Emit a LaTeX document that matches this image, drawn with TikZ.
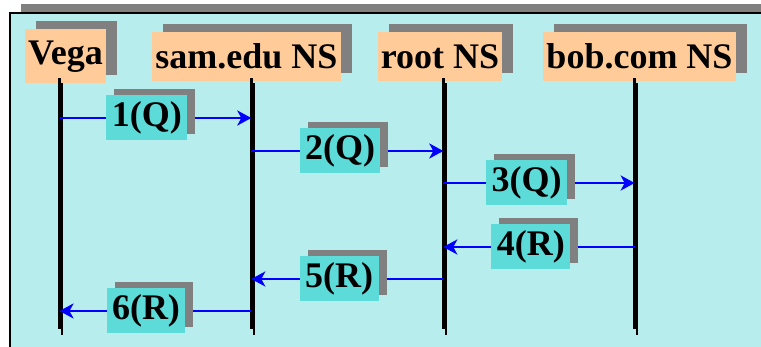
\documentclass[tikz,border=0pt]{standalone}
\usepackage{fontspec}
\setmainfont{Liberation Serif}
\usepackage{xcolor}
\usepackage{tikz}
\usetikzlibrary{arrows.meta,shadows}

\definecolor{panel}{RGB}{184,237,237}
\definecolor{hostfill}{RGB}{255,204,153}
\definecolor{tagfill}{RGB}{92,219,217}
\definecolor{shade}{RGB}{128,128,128}

\begin{document}
\begin{tikzpicture}[x=1pt, y=-1pt, font=\fontsize{36}{40}\selectfont\bfseries,
  host/.style={fill=hostfill, inner xsep=3pt, inner ysep=0pt, minimum height=49pt, anchor=north,
    drop shadow={shadow xshift=11pt, shadow yshift=8pt, fill=shade, opacity=1}},
  tag/.style={fill=tagfill, text=black, inner xsep=5.5pt, inner ysep=0pt, minimum height=45pt,
    drop shadow={shadow xshift=8pt, shadow yshift=6pt, fill=shade, opacity=1}},
  msg/.style={blue, line width=2.5pt, -{Stealth[length=14pt, width=15pt, inset=4pt]}},
  life/.style={line width=2.5pt}]
\useasboundingbox (0,0) rectangle (761,347);
\clip (0,0) rectangle (761,347);
% panel with its shadow
\fill[shade] (21,5) rectangle (800,400);
\draw[fill=panel, line width=1.5pt] (10,13) rectangle (790,400);
% hosts
\node[host, minimum height=54pt] (vegabox) at (65.5,29) {Vega};
\node[host] (sambox) at (246.5,32) {sam.edu NS};
\node[host] (rootbox) at (440,32) {root NS};
\node[host] (bobbox) at (639.5,32) {bob.com NS};
% lifelines
\foreach \n/\x in {vega/59.5, sam/251.3, root/443.3, bob/634.7} {
  \coordinate (\n) at (\x,78);
  \draw[life, shade] ([xshift=2.5pt, yshift=-5pt]\n) -- ++(0,252);
  \draw[life] (\n) -- ++(0,251);
}
% queries and replies
\foreach \i/\a/\b/\y/\p/\t in {1/vega/sam/118/0.456/1(Q), 2/sam/root/151/0.462/2(Q),
    3/root/bob/183/0.435/3(Q), 4/bob/root/247/0.542/4(R),
    5/root/sam/279/0.543/5(R), 6/sam/vega/311/0.549/6(R)}
  \draw[msg] (\a |- 0,\y) -- node[tag, pos=\p] (m\i) {\t} (\b |- 0,\y);
\end{tikzpicture}
\end{document}
